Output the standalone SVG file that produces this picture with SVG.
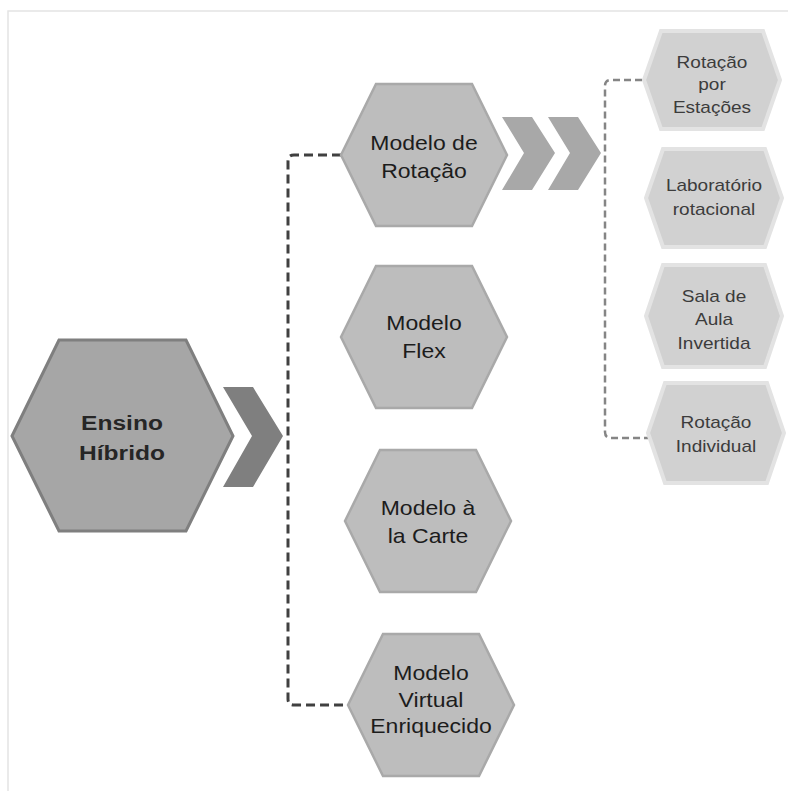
<svg xmlns="http://www.w3.org/2000/svg" width="788" height="791" viewBox="0 0 788 791">
<style>
.frame{fill:none;stroke:#e4e4e4;stroke-width:1.5}
.hexL{fill:#a6a6a6;stroke:#7f7f7f;stroke-width:3}
.hexM{fill:#bdbdbd;stroke:#a9a9a9;stroke-width:2.5}
.hexS{fill:#d1d1d1;stroke:#e3e3e3;stroke-width:4}
.chevL{fill:#7f7f7f}
.chevS{fill:#a8a8a8}
.dashA{fill:none;stroke:#404040;stroke-width:3;stroke-dasharray:9 5}
.dashB{fill:none;stroke:#858585;stroke-width:2.5;stroke-dasharray:7 4}
text{font-family:"Liberation Sans",Arial,sans-serif;text-anchor:middle}
.tL{font-size:21px;font-weight:bold;fill:#262626}
.tM{font-size:20px;fill:#1c1c1c}
.tS{font-size:17px;fill:#3c3c3c}
</style>
<rect class="frame" x="8" y="11" width="800" height="800"/>
<g id="connectors">
<path class="dashA" d="M341,155 H294 Q288,155 288,161 V699 Q288,705 294,705 H348"/>
<path class="dashB" d="M642,80 H611 Q605,80 605,86 V432 Q605,438 611,438 H648"/>
<polygon class="chevL" points="223,387 253,387 283,436 253,487 223,487 252,436"/>
<polygon class="chevS" points="502,117 532,117 555,153 532,190 502,190 524,153"/>
<polygon class="chevS" points="548,117 578,117 601,153 578,190 548,190 570,153"/>
</g>
<g id="ensino-hibrido">
<polygon class="hexL" points="12,436 59,340 186,340 233,436 186,531 59,531"/>
<g transform="translate(122,0) scale(1.17,1)">
<text class="tL" x="0" y="430">Ensino</text>
<text class="tL" x="0" y="460">Híbrido</text>
</g>
</g>
<g id="modelo-rotacao">
<polygon class="hexM" points="341,155 376,84 472,84 507,155 472,226 376,226"/>
<g transform="translate(424,0) scale(1.15,1)">
<text class="tM" x="0" y="150">Modelo de</text>
<text class="tM" x="0" y="178">Rotação</text>
</g>
</g>
<g id="modelo-flex">
<polygon class="hexM" points="341,337 376,266 472,266 507,337 472,408 376,408"/>
<g transform="translate(424,0) scale(1.15,1)">
<text class="tM" x="0" y="330">Modelo</text>
<text class="tM" x="0" y="358">Flex</text>
</g>
</g>
<g id="modelo-carte">
<polygon class="hexM" points="345,521 380,450 476,450 511,521 476,592 380,592"/>
<g transform="translate(428,0) scale(1.15,1)">
<text class="tM" x="0" y="515">Modelo à</text>
<text class="tM" x="0" y="543">la Carte</text>
</g>
</g>
<g id="modelo-virtual">
<polygon class="hexM" points="348,705 383,634 479,634 514,705 479,776 383,776"/>
<g transform="translate(431,0) scale(1.15,1)">
<text class="tM" x="0" y="680">Modelo</text>
<text class="tM" x="0" y="707">Virtual</text>
<text class="tM" x="0" y="733">Enriquecido</text>
</g>
</g>
<g id="rotacao-estacoes">
<polygon class="hexS" points="644,80 661,31 763,31 780,80 763,129 661,129"/>
<g transform="translate(712,0) scale(1.12,1)">
<text class="tS" x="0" y="68">Rotação</text>
<text class="tS" x="0" y="90">por</text>
<text class="tS" x="0" y="113">Estações</text>
</g>
</g>
<g id="laboratorio-rotacional">
<polygon class="hexS" points="646,198 663,149 765,149 782,198 765,247 663,247"/>
<g transform="translate(714,0) scale(1.12,1)">
<text class="tS" x="0" y="191">Laboratório</text>
<text class="tS" x="0" y="215">rotacional</text>
</g>
</g>
<g id="sala-aula-invertida">
<polygon class="hexS" points="646,316 663,265 765,265 782,316 765,367 663,367"/>
<g transform="translate(714,0) scale(1.12,1)">
<text class="tS" x="0" y="302">Sala de</text>
<text class="tS" x="0" y="325">Aula</text>
<text class="tS" x="0" y="349">Invertida</text>
</g>
</g>
<g id="rotacao-individual">
<polygon class="hexS" points="648,433 665,383 767,383 784,433 767,483 665,483"/>
<g transform="translate(716,0) scale(1.12,1)">
<text class="tS" x="0" y="428">Rotação</text>
<text class="tS" x="0" y="452">Individual</text>
</g>
</g>
</svg>
